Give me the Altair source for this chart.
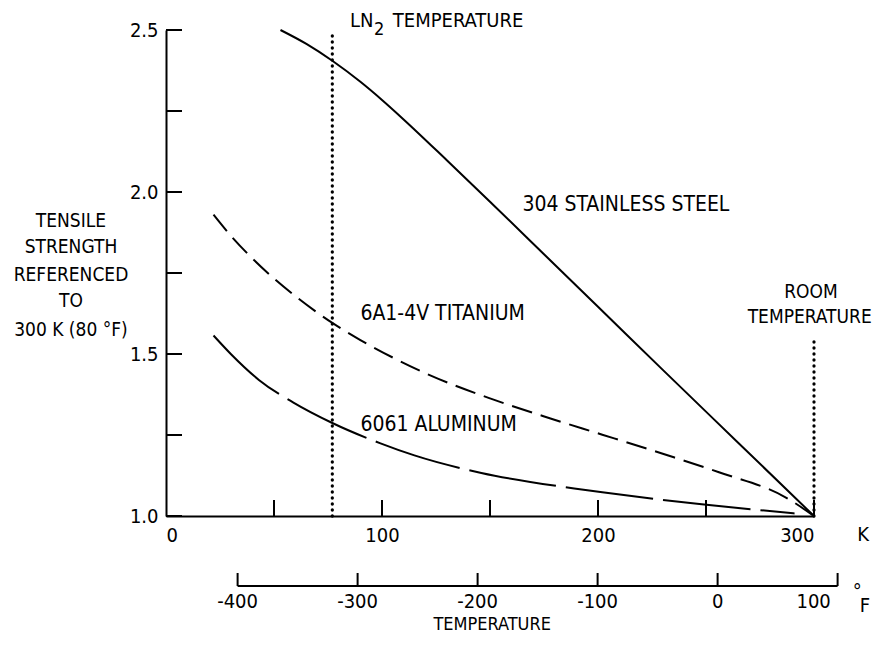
import altair as alt
import pandas as pd

# ---------------- data ----------------
ss_K = [53, 65, 77, 90, 100, 110, 130, 150, 175, 200, 230, 265, 300]
ss_R = [2.50, 2.457, 2.405, 2.34, 2.284, 2.224, 2.098, 1.970, 1.808, 1.646, 1.451, 1.2255, 1.00]

ti_K = [22, 30, 40, 50, 60, 77, 90, 105, 120, 150, 178, 202, 230, 256, 287, 300]
ti_R = [1.93, 1.865, 1.795, 1.733, 1.678, 1.596, 1.543, 1.489, 1.441, 1.363, 1.301, 1.251, 1.192, 1.135, 1.057, 1.00]

al_K = [22, 30, 43, 59, 77, 99, 115, 146, 189, 202, 248, 275, 291]
al_R = [1.557, 1.50, 1.42, 1.35, 1.287, 1.225, 1.187, 1.133, 1.085, 1.073, 1.036, 1.018, 1.008]

k_tick_values = [50, 100, 150, 200, 250, 300]
k_label_values = [0, 100, 200, 300]
r_tick_values = [1.0, 1.25, 1.5, 1.75, 2.0, 2.25, 2.5]
r_label_values = [1.0, 1.5, 2.0, 2.5]
f_tick_values = [-400, -300, -200, -100, 0, 100]
f_tick_labels = ["-400", "-300", "-200", "-100", "0", "100"]

ln2_K = 77
room_K = 300

series_labels = ["304 STAINLESS STEEL", "6A1-4V TITANIUM", "6061 ALUMINUM"]
series_label_K = [165, 90, 90]
series_label_R = [1.96, 1.622, 1.281]

ytitle_lines = ["TENSILE", "STRENGTH", "REFERENCED", "TO", "300 K (80 °F)"]
ytitle_R = [1.909, 1.829, 1.744, 1.665, 1.574]
ytitle_K = -44

# ---------------- layout ----------------
W, H = 648, 486
FONT = "Liberation Sans Narrow, DejaVu Sans Condensed, Roboto Condensed, sans-serif"
FS = 19
FL = 21

def f_to_k(f):
    return (f + 459.67) * 5.0 / 9.0

xs = alt.Scale(domain=[0, 300], nice=False, zero=False)
ys = alt.Scale(domain=[1.0, 2.5], nice=False, zero=False)
X = alt.X("K:Q", scale=xs, title=None,
          axis=alt.Axis(values=k_label_values, format="d", ticks=False, tickSize=0,
                        grid=False, domainColor="black", domainWidth=2,
                        labelPadding=9, labelFontSize=20, labelFont=FONT,
                        labelColor="black"))
Y = alt.Y("R:Q", scale=ys, title=None,
          axis=alt.Axis(values=r_label_values, format=".1f", ticks=False, tickSize=0,
                        grid=False, domainColor="black", domainWidth=2,
                        labelPadding=8, labelFontSize=20, labelFont=FONT,
                        labelColor="black"))


def curve(K, R, dash=None):
    kw = dict(color="black", strokeWidth=2, interpolate="monotone")
    if dash:
        kw["strokeDash"] = dash
    return alt.Chart(pd.DataFrame({"K": K, "R": R})).mark_line(**kw).encode(x=X, y=Y)


ss = curve(ss_K, ss_R)
ti = curve(ti_K, ti_R, [21, 9])
al = curve(al_K, al_R, [88, 10])

dotted = alt.Chart(pd.DataFrame({"K": [ln2_K, room_K], "R": [1.0, 1.0], "R2": [2.49, 1.54]})).mark_rule(
    color="black", strokeWidth=3.3, strokeDash=[0.1, 5.9], strokeCap="round"
).encode(x=X, y=Y, y2="R2:Q")

xticks = alt.Chart(pd.DataFrame({"K": k_tick_values})).mark_rule(color="black", strokeWidth=2).encode(
    x=X, y=alt.value(H), y2=alt.value(H - 16))
yticks = alt.Chart(pd.DataFrame({"R": r_tick_values})).mark_rule(color="black", strokeWidth=2).encode(
    y=Y, x=alt.value(0), x2=alt.value(16))

# Fahrenheit scale drawn below
FY = 556
fdf = pd.DataFrame({"F": f_tick_values, "lab": f_tick_labels,
                    "K": [f_to_k(f) for f in f_tick_values]})
fline = alt.Chart(pd.DataFrame({"K": [f_to_k(f_tick_values[0])], "K2": [f_to_k(f_tick_values[-1])]})).mark_rule(
    color="black", strokeWidth=2).encode(x=X, x2="K2:Q", y=alt.value(FY))
fticks = alt.Chart(fdf).mark_rule(color="black", strokeWidth=2).encode(
    x=X, y=alt.value(FY), y2=alt.value(FY - 13))
flabels = alt.Chart(fdf[fdf.F < 100]).mark_text(font=FONT, fontSize=20, color="black", baseline="middle").encode(
    x=X, y=alt.value(FY + 16), text="lab:N")
flabel100 = alt.Chart(fdf[fdf.F == 100]).mark_text(font=FONT, fontSize=20, color="black", baseline="middle", dx=-24).encode(
    x=X, y=alt.value(FY + 16), text="lab:N")


def txt(items, align="left", size=FS, dy=0):
    df = pd.DataFrame(items, columns=["t", "K", "R"])
    return alt.Chart(df).mark_text(font=FONT, fontSize=size, color="black", align=align,
                                   baseline="middle", dy=dy).encode(x=X, y=Y, text="t:N")

labels = txt(list(zip(series_labels, series_label_K, series_label_R)), size=FL)
ytitle = txt([(t, ytitle_K, r) for t, r in zip(ytitle_lines, ytitle_R)], align="center")
room = txt([("ROOM", 298.6, 1.69), ("TEMPERATURE", 298.0, 1.613)], align="center", size=19)
ln2 = txt([("LN", 85.2, 2.528), ("TEMPERATURE", 105.0, 2.528)], size=20)
ln2sub = txt([("2", 96.3, 2.528)], size=18, dy=9)
kunit = txt([("K", 322.7, 0.941)], align="center", size=20)


def ftext(t, k, yv, size=20):
    return alt.Chart(pd.DataFrame({"t": [t], "K": [k]})).mark_text(
        font=FONT, fontSize=size, color="black", baseline="middle", align="center").encode(
        x=X, y=alt.value(yv), text="t:N")

fdeg = ftext("°", 320.0, FY + 6)
fF = ftext("F", 323.6, FY + 20)
ftitle = ftext("TEMPERATURE", 151, FY + 39, 18)

chart = alt.layer(
    ss, ti, al, dotted, xticks, yticks, fline, fticks, flabels, flabel100,
    labels, ytitle, room, ln2, ln2sub, kunit, fdeg, fF, ftitle
).properties(
    width=W, height=H,
    autosize=alt.AutoSizeParams(type="none"),
    padding={"left": 158, "top": 22, "right": 58, "bottom": 120},
    background="white",
).configure_view(stroke=None)

chart.save("out.html", embed_options={"renderer": "svg", "actions": False})
